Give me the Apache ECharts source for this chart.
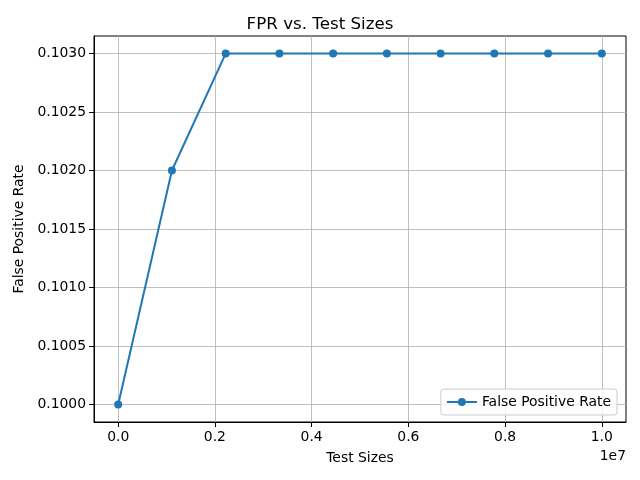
<!DOCTYPE html>
<html>
<head>
<meta charset="utf-8">
<script src="https://cdn.jsdelivr.net/npm/echarts@6/dist/echarts.min.js"></script>
<style>html,body{margin:0;padding:0;background:#fff}#c{width:640px;height:480px}</style>
</head>
<body>
<div id="c"></div>
<script>
const testSizes = [0, 1111111, 2222222, 3333333, 4444444, 5555556, 6666667, 7777778, 8888889, 10000000];
const fprValues = [0.1000, 0.1020, 0.1030, 0.1030, 0.1030, 0.1030, 0.1030, 0.1030, 0.1030, 0.1030];
const xTicks = [0, 2000000, 4000000, 6000000, 8000000, 10000000];
const yTicks = [0.1000, 0.1005, 0.1010, 0.1015, 0.1020, 0.1025, 0.1030];

const font = 'DejaVu Sans';
const chart = echarts.init(document.getElementById('c'), null, {renderer: 'canvas'});
chart.setOption({
  animation: false,
  backgroundColor: '#fff',
  title: {
    text: 'FPR vs. Test Sizes', left: 'center', top: 11,
    textStyle: {fontFamily: font, fontSize: 16.7, fontWeight: 'normal', color: '#000'}
  },
  grid: {left: 94, right: 14, top: 36, bottom: 58, show: true, borderColor: '#000', borderWidth: 1, backgroundColor: 'transparent'},
  legend: {
    right: 23, bottom: 65, orient: 'vertical',
    backgroundColor: 'rgba(255,255,255,0.8)', borderColor: '#cccccc', borderWidth: 1, borderRadius: 3,
    padding: [6, 6, 6, 5], itemWidth: 30, itemHeight: 10, itemGap: 10,
    textStyle: {fontFamily: font, fontSize: 13.9, color: '#000'},
    data: ['False Positive Rate']
  },
  xAxis: {
    type: 'value', min: -500000, max: 10500000,
    name: 'Test Sizes', nameLocation: 'middle', nameGap: 29,
    nameTextStyle: {fontFamily: font, fontSize: 13.9, color: '#000'},
    axisLine: {show: true, onZero: false, lineStyle: {color: '#000', width: 1}},
    axisTick: {show: true, length: 5, lineStyle: {color: '#000'}, customValues: xTicks},
    axisLabel: {fontFamily: font, fontSize: 13.9, color: '#000', margin: 8, customValues: xTicks,
      formatter: v => (v / 1e7).toFixed(1)},
    splitLine: {show: true, lineStyle: {color: '#b0b0b0', width: 0.8}}
  },
  yAxis: {
    type: 'value', min: 0.09985, max: 0.10315,
    name: 'False Positive Rate', nameLocation: 'middle', nameGap: 66, nameRotate: 90,
    nameTextStyle: {fontFamily: font, fontSize: 13.9, color: '#000'},
    axisLine: {show: true, onZero: false, lineStyle: {color: '#000', width: 1}},
    axisTick: {show: true, length: 5, lineStyle: {color: '#000'}, customValues: yTicks},
    axisLabel: {fontFamily: font, fontSize: 13.9, color: '#000', margin: 8, customValues: yTicks,
      formatter: v => v.toFixed(4)},
    splitLine: {show: true, lineStyle: {color: '#b0b0b0', width: 0.8}}
  },
  graphic: [{
    type: 'text', right: 14, top: 449,
    style: {text: '1e7', font: '13.9px "DejaVu Sans"', fill: '#000'}
  }],
  series: [{
    name: 'False Positive Rate', type: 'line',
    data: testSizes.map((x, i) => [x, fprValues[i]]),
    symbol: 'circle', symbolSize: 8, showSymbol: true,
    itemStyle: {color: '#1f77b4'},
    lineStyle: {color: '#1f77b4', width: 2}
  }]
});
</script>
</body>
</html>
